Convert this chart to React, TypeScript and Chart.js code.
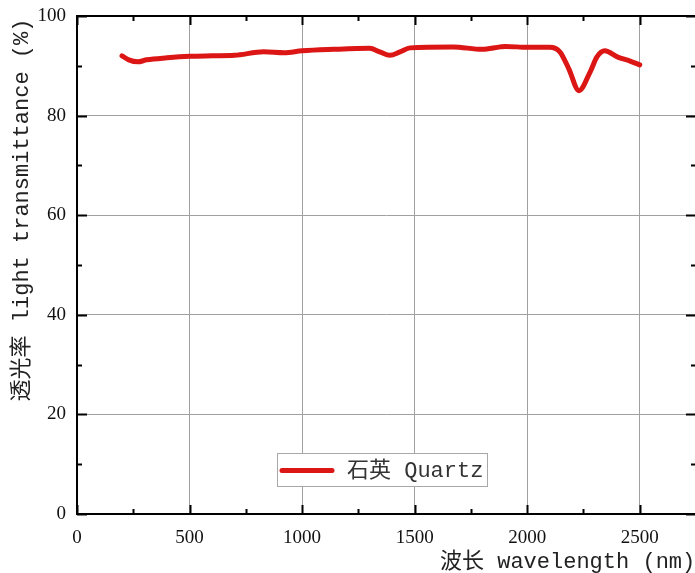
import React, { useEffect, useRef } from "react";
import { Chart, registerables } from "chart.js";

Chart.register(...registerables);

const wavelength = [200, 230, 270, 310, 400, 500, 600, 700, 830, 920, 1000, 1140, 1300, 1345, 1390, 1435, 1480, 1670, 1800, 1880, 1905, 2000, 2100, 2145, 2185, 2230, 2280, 2310, 2345, 2400, 2460, 2500];
const transmittance = [92.0, 91.2, 90.8, 91.2, 91.6, 91.9, 92.0, 92.1, 92.8, 92.6, 93.0, 93.3, 93.5, 92.8, 92.1, 92.8, 93.6, 93.8, 93.3, 93.8, 93.9, 93.7, 93.7, 92.8, 89.4, 85.0, 88.8, 91.8, 93.0, 91.8, 90.9, 90.2];
const seriesLabel = "石英 Quartz";
const xTitle = "波长 wavelength (nm)";
const yTitle = "透光率 light transmittance (%)";
const xTicks = [0, 500, 1000, 1500, 2000, 2500];
const yTicks = [0, 20, 40, 60, 80, 100];

const LINE_COLOR = "#dc1515";
const TITLE_FONT = '22px "Liberation Mono", "Noto Sans CJK SC", monospace';

const decorPlugin = {
  id: "decor",
  afterDraw(chart: any) {
    const { ctx, chartArea, scales } = chart;
    const { left, right, top, bottom } = chartArea;
    const xs = scales.x;
    const ys = scales.y;
    ctx.save();
    // frame
    ctx.strokeStyle = "#000";
    ctx.lineWidth = 2;
    ctx.strokeRect(left, top, right - left, bottom - top);
    // ticks, inward on all four sides
    for (let v = 0; v <= 2750; v += 250) {
      const px = Math.round(xs.getPixelForValue(v)) + 0.5;
      const len = v % 500 === 0 ? 9 : 5;
      ctx.beginPath();
      ctx.moveTo(px, bottom);
      ctx.lineTo(px, bottom - len);
      ctx.moveTo(px, top);
      ctx.lineTo(px, top + len);
      ctx.stroke();
    }
    for (let v = 0; v <= 100; v += 10) {
      const py = Math.round(ys.getPixelForValue(v)) + 0.5;
      const len = v % 20 === 0 ? 10 : 5;
      ctx.beginPath();
      ctx.moveTo(left, py);
      ctx.lineTo(left + len, py);
      ctx.moveTo(right, py);
      ctx.lineTo(right - len, py);
      ctx.stroke();
    }
    // legend
    ctx.fillStyle = "#fff";
    ctx.fillRect(277.5, 453.5, 210, 33);
    ctx.strokeStyle = "#a8a8a8";
    ctx.lineWidth = 1;
    ctx.strokeRect(277.5, 453.5, 210, 33);
    ctx.strokeStyle = LINE_COLOR;
    ctx.lineWidth = 5;
    ctx.lineCap = "round";
    ctx.beginPath();
    ctx.moveTo(282, 470.5);
    ctx.lineTo(332, 470.5);
    ctx.stroke();
    ctx.fillStyle = "#333";
    ctx.font = TITLE_FONT;
    ctx.textAlign = "left";
    ctx.textBaseline = "middle";
    ctx.fillText(chart.data.datasets[0].label, 347, 471);
    // axis titles
    ctx.fillStyle = "#222";
    ctx.fillText(xTitle, 440, 562);
    ctx.translate(22, 210);
    ctx.rotate(-Math.PI / 2);
    ctx.textAlign = "center";
    ctx.fillText(yTitle, 0, 0);
    ctx.restore();
  },
};

export default function App() {
  const ref = useRef<HTMLCanvasElement | null>(null);
  useEffect(() => {
    if (!ref.current) return;
    const chart = new Chart(ref.current, {
      type: "line",
      data: {
        datasets: [
          {
            label: seriesLabel,
            data: wavelength.map((x, i) => ({ x, y: transmittance[i] })),
            borderColor: LINE_COLOR,
            backgroundColor: LINE_COLOR,
            borderWidth: 5,
            pointRadius: 0,
            cubicInterpolationMode: "monotone",
            borderCapStyle: "round",
            borderJoinStyle: "round",
          },
        ],
      },
      options: {
        responsive: false,
        animation: false,
        devicePixelRatio: 1,
        layout: { padding: { top: 16, right: 4, left: 0, bottom: 0 } },
        plugins: { legend: { display: false }, tooltip: { enabled: false } },
        scales: {
          x: {
            type: "linear",
            min: 0,
            max: 2750,
            afterBuildTicks: (s: any) => {
              s.ticks = xTicks.map((v) => ({ value: v }));
            },
            afterFit: (s: any) => {
              s.height = 59;
              s.paddingLeft = 0;
              s.paddingRight = 0;
            },
            grid: { color: "#a0a0a0", lineWidth: 1, drawTicks: false },
            border: { display: false },
            ticks: {
              color: "#111",
              padding: 13,
              maxRotation: 0,
              callback: (v: any) => String(v),
              font: { family: '"Liberation Serif", serif', size: 19 },
            },
          },
          y: {
            type: "linear",
            min: 0,
            max: 100,
            afterBuildTicks: (s: any) => {
              s.ticks = yTicks.map((v) => ({ value: v }));
            },
            afterFit: (s: any) => {
              s.width = 77;
              s.paddingTop = 0;
              s.paddingBottom = 0;
            },
            grid: { color: "#a0a0a0", lineWidth: 1, drawTicks: false },
            border: { display: false },
            ticks: {
              color: "#111",
              padding: 11,
              callback: (v: any) => String(v),
              font: { family: '"Liberation Serif", serif', size: 19 },
            },
          },
        },
      },
      plugins: [decorPlugin],
    } as any);
    return () => chart.destroy();
  }, []);
  return (
    <div style={{ position: "fixed", left: 0, top: 0, width: 695, height: 573, overflow: "hidden", background: "#fff" }}>
      <canvas ref={ref} width={700} height={573} style={{ width: 700, height: 573, display: "block" }} />
    </div>
  );
}
